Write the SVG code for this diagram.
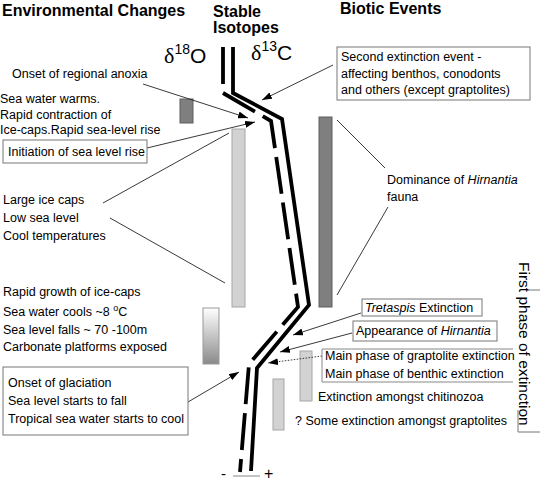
<svg xmlns="http://www.w3.org/2000/svg" width="540" height="482" viewBox="0 0 540 482">
<style>
text{font-family:"Liberation Sans",Arial,sans-serif;fill:#000}
.t{font-size:12.5px}
.h{font-size:16px;font-weight:bold}
.big{font-size:21px}
.dl{font-family:"Liberation Serif","Times New Roman",serif;font-size:22px}
.sup{font-size:14px}
.box{fill:#fff;stroke:#777;stroke-width:1}
.c{stroke:#222;stroke-width:0.9;fill:none}
.ca{stroke:#222;stroke-width:0.9;fill:none;marker-end:url(#ah)}
.dark{fill:#7f7f7f;stroke:#5e5e5e;stroke-width:1}
.light{fill:#d2d2d2;stroke:#a6a6a6;stroke-width:1}
.iso{fill:none;stroke:#000;stroke-width:3.8;stroke-linejoin:miter}
</style>
<defs>
<marker id="ah" viewBox="0 0 10 7" refX="10" refY="3.5" markerWidth="10" markerHeight="7" markerUnits="userSpaceOnUse" orient="auto">
<path d="M0,0 L10,3.5 L0,7 z" fill="#000"/>
</marker>
<linearGradient id="gr" x1="0" y1="0" x2="0" y2="1">
<stop offset="0" stop-color="#ffffff"/>
<stop offset="1" stop-color="#8a8a8a"/>
</linearGradient>
</defs>
<rect width="540" height="482" fill="#fff"/>

<g id="headers">
<text class="h" x="2" y="16">Environmental Changes</text>
<text class="h" x="213" y="17">Stable</text>
<text class="h" x="213" y="33">Isotopes</text>
<text class="h" x="340" y="14">Biotic Events</text>
<text x="164" y="63"><tspan class="dl">δ</tspan><tspan class="sup" dy="-9">18</tspan><tspan class="big" dy="9">O</tspan></text>
<text x="251" y="60"><tspan class="dl">δ</tspan><tspan class="sup" dy="-9">13</tspan><tspan class="big" dy="9">C</tspan></text>
</g>

<g id="bars">
<rect class="dark" x="180" y="99" width="13" height="24"/>
<rect class="light" x="232" y="129" width="13" height="178"/>
<rect x="203" y="308" width="16" height="56" fill="url(#gr)" stroke="#999" stroke-width="1"/>
<rect class="dark" x="319" y="117" width="13" height="190"/>
<rect class="light" x="300" y="351" width="12" height="50"/>
<rect class="light" x="273" y="379" width="11" height="51"/>
</g>

<g id="isotope-curves">
<path class="iso" d="M223,47 L223,93 L271,121 L298,307 L249,364 L240,472" stroke-dasharray="37,9"/>
<path class="iso" d="M233,47 L233,93 L282,119 L309,305 L257,368 L251,471"/>
<line x1="233" y1="476" x2="260" y2="476" stroke="#888" stroke-width="1"/>
<text x="221" y="479" style="font-size:15px">-</text>
<text x="264" y="479" style="font-size:16px">+</text>
</g>

<g id="connectors">
<line class="ca" x1="333" y1="65" x2="262" y2="100"/>
<line class="ca" x1="143" y1="84" x2="248" y2="118"/>
<line class="ca" x1="147" y1="148" x2="255" y2="122"/>
<line class="c" x1="103" y1="203" x2="229" y2="133"/>
<line class="c" x1="110" y1="218" x2="225" y2="283"/>
<line class="c" x1="337" y1="120" x2="385" y2="168"/>
<line class="c" x1="388" y1="207" x2="337" y2="295"/>
<line class="ca" x1="361" y1="313" x2="293" y2="335"/>
<line class="ca" x1="352" y1="333" x2="280" y2="352"/>
<line class="ca" x1="322" y1="356" x2="268" y2="363" stroke-dasharray="1.5,1.5"/>
<line class="ca" x1="188" y1="402" x2="239" y2="372"/>
</g>

<g id="env-anoxia">
<text class="t" x="12" y="78">Onset of regional anoxia</text>
</g>
<g id="env-warms">
<text class="t" x="0" y="103">Sea water warms.</text>
<text class="t" x="0" y="119">Rapid contraction of</text>
<text class="t" x="0" y="134">Ice-caps.Rapid sea-level rise</text>
</g>
<g id="env-initiation">
<rect class="box" x="3" y="140" width="144" height="23"/>
<text class="t" x="8" y="156">Initiation of sea level rise</text>
</g>
<g id="env-large">
<text class="t" x="3" y="204">Large ice caps</text>
<text class="t" x="3" y="222">Low sea level</text>
<text class="t" x="3" y="240">Cool temperatures</text>
</g>
<g id="env-growth">
<text class="t" x="3" y="296">Rapid growth of ice-caps</text>
<text class="t" x="3" y="316">Sea water cools ~8 <tspan font-size="9" dy="-5">o</tspan><tspan dy="5">C</tspan></text>
<text class="t" x="3" y="334">Sea level falls ~ 70 -100m</text>
<text class="t" x="3" y="351">Carbonate platforms exposed</text>
</g>
<g id="env-glaciation">
<rect class="box" x="3" y="367" width="185" height="68"/>
<text class="t" x="8" y="387">Onset of glaciation</text>
<text class="t" x="8" y="405">Sea level starts to fall</text>
<text class="t" x="8" y="423">Tropical sea water starts to cool</text>
</g>

<g id="bio-second">
<rect class="box" x="337" y="47" width="193" height="53"/>
<text class="t" x="341" y="61">Second extinction event -</text>
<text class="t" x="341" y="78">affecting benthos, conodonts</text>
<text class="t" x="341" y="94">and others  (except graptolites)</text>
</g>
<g id="bio-dominance">
<text class="t" x="387" y="184">Dominance of  <tspan font-style="italic">Hirnantia</tspan></text>
<text class="t" x="387" y="201">fauna</text>
</g>
<g id="bio-tretaspis">
<rect class="box" x="362" y="299" width="120" height="17"/>
<text class="t" x="365" y="312"><tspan font-style="italic">Tretaspis</tspan> Extinction</text>
</g>
<g id="bio-appearance">
<rect class="box" x="353" y="321" width="144" height="20"/>
<text class="t" x="356" y="335">Appearance of  <tspan font-style="italic">Hirnantia</tspan></text>
</g>
<g id="bio-mainphase">
<path d="M513,349 H322 V382 H513" fill="none" stroke="#888" stroke-width="1"/>
<text class="t" x="325" y="360">Main phase of graptolite extinction</text>
<text class="t" x="325" y="378">Main phase of benthic extinction</text>
</g>
<g id="bio-chitinozoa">
<text class="t" x="318" y="401">Extinction amongst chitinozoa</text>
</g>
<g id="bio-graptolites">
<text class="t" x="295" y="425">? Some extinction amongst graptolites</text>
</g>
<g id="bio-firstphase">
<path d="M527,290 H540 M518,410 V432 H540" fill="none" stroke="#777" stroke-width="1"/>
<text x="519" y="262" transform="rotate(90 519 262)" style="font-size:15.5px">First phase of extinction</text>
</g>
</svg>
